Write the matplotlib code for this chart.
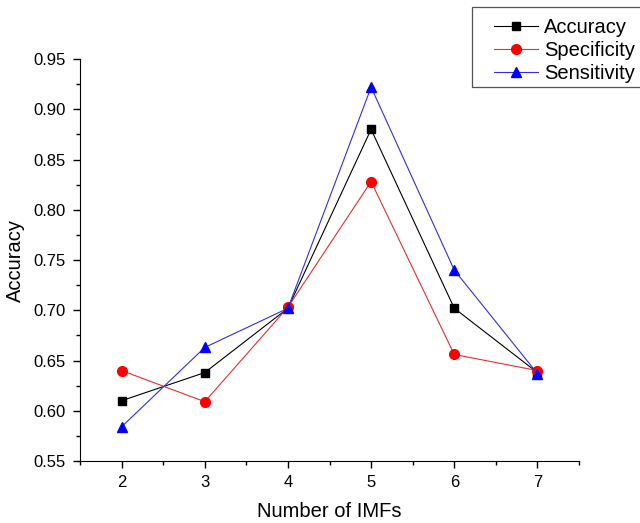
import matplotlib.pyplot as plt
from matplotlib.patches import Rectangle
from matplotlib.ticker import MultipleLocator

plt.rcParams['font.family'] = ['Liberation Sans', 'DejaVu Sans']

# number of IMFs and the three scores
imfs = [2, 3, 4, 5, 6, 7]
accuracy = [0.610, 0.638, 0.702, 0.880, 0.702, 0.638]
specificity = [0.640, 0.609, 0.703, 0.828, 0.656, 0.640]
sensitivity = [0.584, 0.663, 0.702, 0.922, 0.740, 0.637]

fig = plt.figure(figsize=(6.4, 5.23), dpi=100)
ax = fig.add_axes([0.125, 0.1185, 0.7797, 0.7687])

ax.plot(imfs, accuracy, color="black", lw=0.8, marker="s", ms=6.2, label="Accuracy")
ax.plot(imfs, specificity, color="#e03030", lw=0.8, marker="o", ms=7,
        mfc="red", mec="red", label="Specificity")
ax.plot(imfs, sensitivity, color="#3030e0", lw=0.8, marker="^", ms=7.8,
        mfc="blue", mec="blue", label="Sensitivity")

ax.set_xlim(1.5, 7.5)
ax.set_ylim(0.55, 0.95)
ax.xaxis.set_major_locator(MultipleLocator(1))
ax.xaxis.set_minor_locator(MultipleLocator(0.5))
ax.yaxis.set_major_locator(MultipleLocator(0.05))
ax.yaxis.set_minor_locator(MultipleLocator(0.025))
ax.yaxis.set_major_formatter(plt.FormatStrFormatter("%.2f"))

ax.spines["top"].set_visible(False)
ax.spines["right"].set_visible(False)
ax.tick_params(which="major", direction="out", length=5, width=1, labelsize=12, pad=5)
ax.tick_params(which="minor", direction="out", length=3, width=1)

ax.set_xlabel("Number of IMFs", fontsize=14.5, labelpad=9)
ax.set_ylabel("Accuracy", fontsize=14.5, labelpad=6)

# legend box runs off the right edge of the figure
leg = fig.legend(loc="upper left", bbox_to_anchor=(0.772, 0.966), fontsize=14.5,
                 frameon=False, handlelength=2.2, handletextpad=0.3,
                 borderpad=0, borderaxespad=0, labelspacing=0.2)
fig.patches.append(Rectangle((472 / 640, 1 - 87 / 523), 0.3, 80 / 523,
                             transform=fig.transFigure, fill=False,
                             edgecolor="#555555", lw=0.9))

fig.savefig("out.png", dpi=100)
